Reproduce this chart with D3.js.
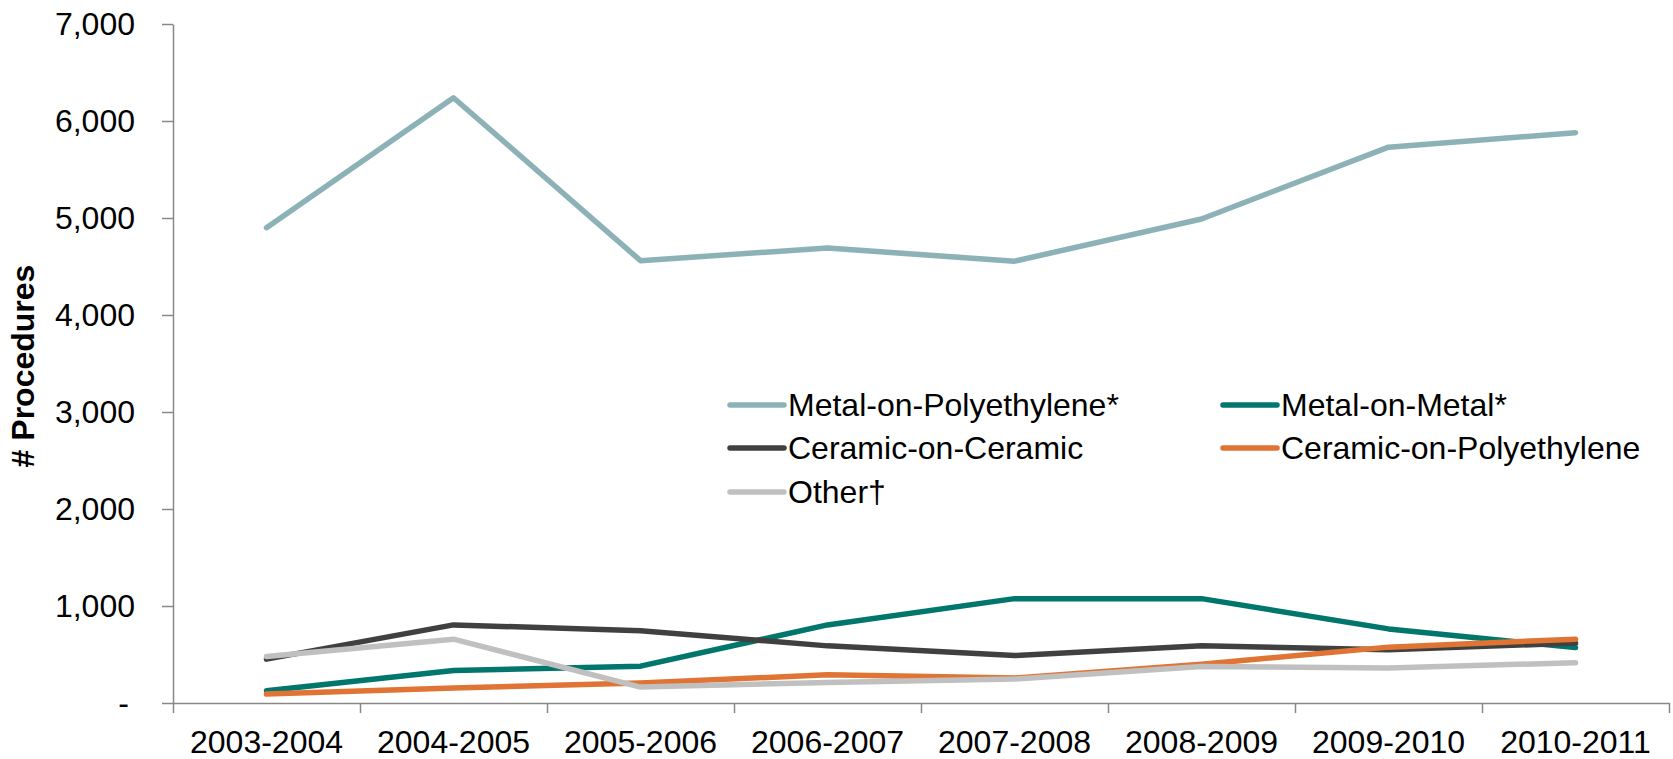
<!DOCTYPE html>
<html>
<head>
<meta charset="utf-8">
<script src="https://cdn.jsdelivr.net/npm/d3@7"></script>
<style>
  body { margin: 0; background: #fff; }
  svg { display: block; font-family: "Liberation Sans", Arial, sans-serif; }
</style>
</head>
<body>
<svg id="chart"></svg>
<script>
// data
const categories = ["2003-2004", "2004-2005", "2005-2006", "2006-2007",
                    "2007-2008", "2008-2009", "2009-2010", "2010-2011"];
const seriesNames = ["Metal-on-Polyethylene*", "Metal-on-Metal*", "Ceramic-on-Ceramic",
                     "Ceramic-on-Polyethylene", "Other\u2020"];
const metalOnPoly      = [4900, 6240, 4560, 4690, 4555, 4990, 5730, 5880];
const metalOnMetal     = [126, 335, 380, 805, 1076, 1076, 764, 571];
const ceramicOnCeramic = [452, 805, 746, 589, 489, 589, 548, 618];
const ceramicOnPoly    = [92, 154, 206, 291, 257, 400, 576, 658];
const otherValues      = [479, 658, 164, 212, 247, 376, 360, 416];
const yTicks = [0, 1000, 2000, 3000, 4000, 5000, 6000, 7000];

const colors = ["#8cb2b8", "#00766c", "#404040", "#e07434", "#c0c0c0"];
const allValues = [metalOnPoly, metalOnMetal, ceramicOnCeramic, ceramicOnPoly, otherValues];

drawChart();

function drawChart() {
  var series = seriesNames.map(function(name, i) {
    return { name: name, values: categories.map(function(c, j) { return { cat: c, value: allValues[i][j] }; }) };
  });

  var svg = d3.select("#chart").attr("width", 1673).attr("height", 759);

  var plotLeft = 173, plotRight = 1669, plotTop = 24, plotBottom = 703;

  var x = d3.scaleBand().domain(categories).range([plotLeft, plotRight]);
  var xEdge = d3.scaleLinear().domain([0, categories.length]).range([plotLeft, plotRight]);
  var y = d3.scaleLinear().domain([0, 7000]).range([plotBottom, plotTop]);
  var color = d3.scaleOrdinal().domain(seriesNames).range(colors);

  var axisColor = "#888";

  // y axis
  var yAxis = svg.append("g")
    .attr("transform", "translate(" + plotLeft + ",0)")
    .call(d3.axisLeft(y).tickValues(yTicks).tickSize(11).tickSizeOuter(0).tickPadding(27)
      .tickFormat(function(d) { return d === 0 ? "-" : d3.format(",")(d); }));
  yAxis.selectAll("path, line").attr("stroke", axisColor).attr("stroke-width", 1.5);
  yAxis.selectAll("text").attr("font-size", 32).attr("fill", "#000")
    .attr("font-family", "'Liberation Sans', Arial, sans-serif");
  yAxis.selectAll("text").filter(function(d) { return d === 0; }).attr("dx", -6);

  // x axis: ticks at band edges, labels at band centres
  var xTicks = svg.append("g")
    .attr("transform", "translate(0," + plotBottom + ")")
    .call(d3.axisBottom(xEdge).tickValues(d3.range(categories.length + 1)).tickSize(10)
      .tickSizeOuter(0).tickFormat(""));
  xTicks.selectAll("path, line").attr("stroke", axisColor).attr("stroke-width", 1.5);

  var xLabels = svg.append("g")
    .attr("transform", "translate(0," + plotBottom + ")")
    .call(d3.axisBottom(x).tickSize(0).tickPadding(27));
  xLabels.select(".domain").remove();
  xLabels.selectAll("text").attr("font-size", 32).attr("fill", "#000")
    .attr("font-family", "'Liberation Sans', Arial, sans-serif");

  // y axis title
  svg.append("text")
    .attr("transform", "translate(34,366) rotate(-90)")
    .attr("text-anchor", "middle")
    .attr("font-size", 32)
    .attr("font-weight", "bold")
    .text("# Procedures");

  // lines
  var line = d3.line()
    .x(function(d) { return x(d.cat) + x.bandwidth() / 2; })
    .y(function(d) { return y(d.value); });

  svg.append("g").selectAll("path")
    .data(series)
    .join("path")
    .attr("fill", "none")
    .attr("stroke", function(d) { return color(d.name); })
    .attr("stroke-width", 5.5)
    .attr("stroke-linejoin", "round")
    .attr("stroke-linecap", "round")
    .attr("d", function(d) { return line(d.values); });

  // legend
  var legendCols = [730, 1223];
  var legendRows = [405, 448, 492];
  var legend = svg.append("g").selectAll("g")
    .data(series)
    .join("g")
    .attr("transform", function(d, i) {
      return "translate(" + legendCols[i % 2] + "," + legendRows[Math.floor(i / 2)] + ")";
    });
  legend.append("line")
    .attr("x1", 0).attr("x2", 54)
    .attr("stroke", function(d) { return color(d.name); })
    .attr("stroke-width", 5.5)
    .attr("stroke-linecap", "round");
  legend.append("text")
    .attr("x", 58)
    .attr("dy", "0.35em")
    .attr("font-size", 32)
    .text(function(d) { return d.name; });
}
</script>
</body>
</html>
